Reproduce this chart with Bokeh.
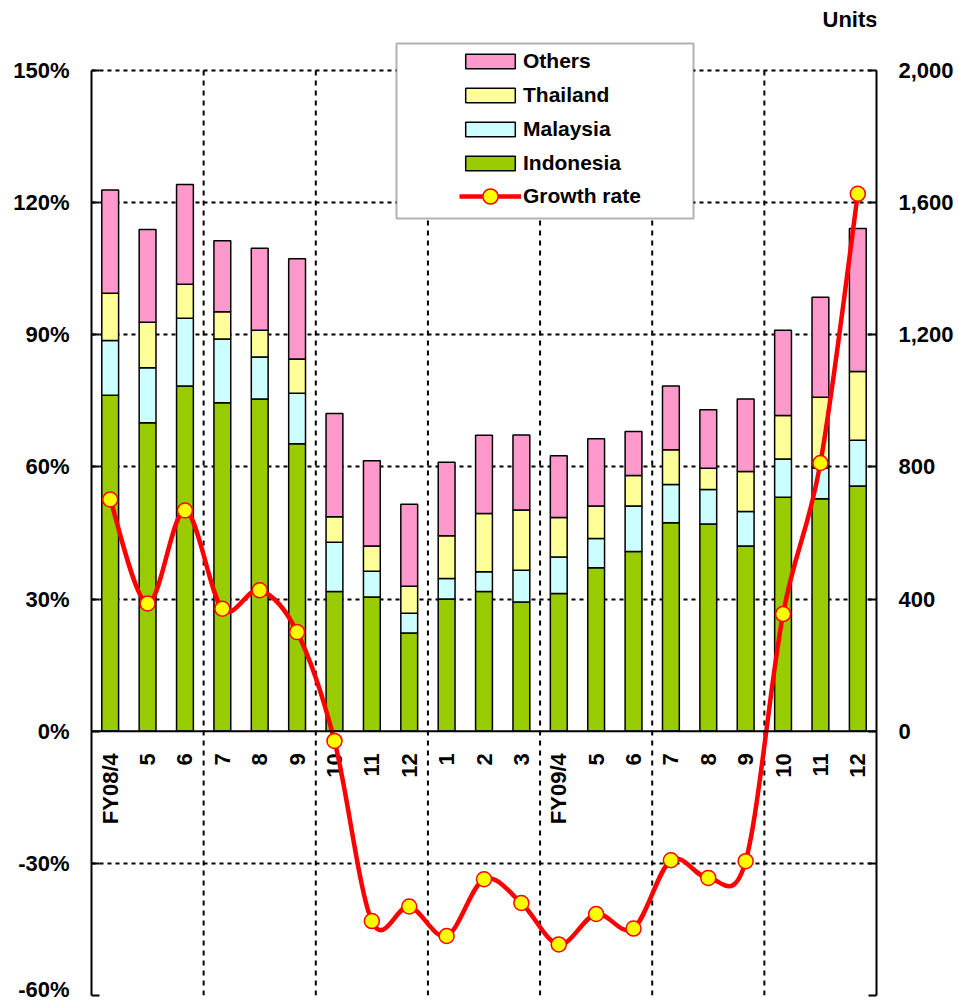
import math
from bokeh.plotting import figure
from bokeh.models import (Range1d, LinearAxis, FixedTicker, PrintfTickFormatter, NumeralTickFormatter,
                          Grid, Span, Legend, LegendItem, BoxAnnotation, Label, ColumnDataSource)
from bokeh.core.properties import value
from bokeh.embed import file_html
from bokeh.resources import INLINE

# ---------------- data ----------------
categories = ["FY08/4", "5", "6", "7", "8", "9", "10", "11", "12", "1", "2", "3",
              "FY09/4", "5", "6", "7", "8", "9", "10", "11", "12"]
indonesia = [1017, 934, 1045, 994, 1006, 870, 423, 406, 297, 400, 423, 391,
             417, 495, 544, 631, 627, 561, 708, 704, 742]
malaysia = [166, 166, 205, 193, 127, 153, 149, 78, 60, 62, 60, 96,
            110, 88, 138, 116, 105, 104, 116, 93, 139]
thailand = [143, 138, 103, 83, 81, 104, 77, 77, 82, 130, 176, 183,
            120, 99, 92, 105, 64, 121, 132, 214, 208]
others = [312, 281, 302, 215, 248, 303, 313, 258, 248, 222, 237, 227,
          187, 203, 133, 193, 177, 220, 258, 303, 433]
growth = [52.6, 29.0, 50.1, 27.8, 32.0, 22.5, -2.2, -43.1, -39.8, -46.5, -33.6, -39.0,
          -48.4, -41.5, -44.8, -29.3, -33.3, -29.5, 26.6, 60.9, 122.0]

pct_ticks = [-60, -30, 0, 30, 60, 90, 120, 150]
unit_ticks = [-800, -400, 0, 400, 800, 1200, 1600, 2000]

FONT = "Liberation Sans"
colors = {"Indonesia": "#99CC00", "Malaysia": "#CCFFFF", "Thailand": "#FFFF99", "Others": "#FF99CC"}

xs = list(range(len(categories)))
src = ColumnDataSource(dict(x=xs, cat=categories, Indonesia=indonesia, Malaysia=malaysia,
                            Thailand=thailand, Others=others, growth=growth))

# geometry: frame starts at canvas top; 150% sits 70px below it
PX_PER_PCT = 925.0 / 210.0
top_extra = 70.0 / PX_PER_PCT
pct_lo, pct_hi = pct_ticks[0], pct_ticks[-1]
u_per_pct = (unit_ticks[-1] - unit_ticks[2]) / pct_hi

p = figure(width=956, height=1001, x_range=Range1d(-0.5, len(categories) - 0.5),
           y_range=Range1d(pct_lo, pct_hi + top_extra), x_axis_location=None,
           output_backend="svg", toolbar_location=None,
           min_border_left=91, min_border_right=78, min_border_top=0, min_border_bottom=6)
p.outline_line_color = None
p.background_fill_color = "white"

# left axis
ya = p.yaxis[0]
ya.ticker = FixedTicker(ticks=pct_ticks)
ya.formatter = PrintfTickFormatter(format="%d%%")
ya.bounds = (pct_lo, pct_hi)
ya.axis_line_color = "black"
ya.axis_line_width = 2
ya.major_tick_in = 8
ya.major_tick_out = 0
ya.major_tick_line_width = 2
ya.minor_tick_line_color = None
ya.major_label_standoff = 22
ya.major_label_text_font = FONT
ya.major_label_text_font_style = "bold"
ya.major_label_text_font_size = "22px"
ya.major_label_text_color = "black"

# right axis
p.extra_y_ranges = {"units": Range1d(pct_lo * u_per_pct, (pct_hi + top_extra) * u_per_pct)}
ra = LinearAxis(y_range_name="units", ticker=FixedTicker(ticks=unit_ticks),
                formatter=NumeralTickFormatter(format="0,0"),
                bounds=(unit_ticks[0], unit_ticks[-1]))
ra.major_label_overrides = {-800: "", -400: ""}
ra.axis_line_color = "black"
ra.axis_line_width = 2
ra.major_tick_in = 8
ra.major_tick_out = 0
ra.major_tick_line_width = 2
ra.minor_tick_line_color = None
ra.major_label_standoff = 22
ra.major_label_text_font = FONT
ra.major_label_text_font_style = "bold"
ra.major_label_text_font_size = "22px"
ra.major_label_text_color = "black"
p.add_layout(ra, "right")

# grids
for g in p.ygrid:
    g.visible = False
for g in p.xgrid:
    g.visible = False
p.add_layout(Grid(dimension=1, ticker=FixedTicker(ticks=[t for t in pct_ticks if t != 0]),
                  grid_line_color="black", grid_line_width=2, grid_line_dash="4 4"))
quarter_bounds = [i - 0.5 for i in range(3, len(categories), 3)]
p.segment(x0=quarter_bounds, y0=pct_lo, x1=quarter_bounds, y1=pct_hi,
          line_color="black", line_width=2, line_dash="5 5", level="underlay")
p.add_layout(Span(location=0, dimension="width", line_color="black", line_width=2))

# stacked bars
stack = ["Indonesia", "Malaysia", "Thailand", "Others"]
bars = p.vbar_stack(stack, x="x", width=0.45, source=src, y_range_name="units",
                    fill_color=[colors[s] for s in stack], line_color="black", line_width=1.5)

# category labels under the zero line
p.text(x="x", y=0, text="cat", source=src, angle=math.pi / 2, text_align="right",
       text_baseline="middle", y_offset=22, text_font=value(FONT), text_font_style="bold",
       text_font_size="22px", text_color="black")

# smoothed growth line (Bezier segments through the data points)
n = len(growth)
bx0, by0, bx1, by1, cx0, cy0, cx1, cy1 = [], [], [], [], [], [], [], []
for i in range(n - 1):
    a = max(i - 1, 0)
    d = min(i + 2, n - 1)
    bx0.append(xs[i]); by0.append(growth[i])
    bx1.append(xs[i + 1]); by1.append(growth[i + 1])
    cx0.append(xs[i] + (xs[i + 1] - xs[a]) / 6.0)
    cy0.append(growth[i] + (growth[i + 1] - growth[a]) / 6.0)
    cx1.append(xs[i + 1] - (xs[d] - xs[i]) / 6.0)
    cy1.append(growth[i + 1] - (growth[d] - growth[i]) / 6.0)
p.bezier(x0=bx0, y0=by0, x1=bx1, y1=by1, cx0=cx0, cy0=cy0, cx1=cx1, cy1=cy1,
         line_color="#FF0000", line_width=4.5)
leg_line = p.line(x="x", y="growth", source=src, line_color="#FF0000", line_width=4.5, visible=False)
pts = p.scatter(x="x", y="growth", source=src, size=15, fill_color="#FFFF00",
                line_color="#FF0000", line_width=1.5)

# legend frame
p.add_layout(BoxAnnotation(left=396, right=693, top=43, bottom=218,
                           left_units="canvas", right_units="canvas",
                           top_units="canvas", bottom_units="canvas",
                           fill_color="white", fill_alpha=1.0,
                           line_color="black", line_width=2, level="annotation"))

legend_style = dict(glyph_width=62, label_standoff=2, spacing=10, padding=8, margin=0,
                    border_line_alpha=0, background_fill_alpha=0,
                    label_text_font=FONT, label_text_font_style="bold",
                    label_text_font_size="21px", label_text_color="black")
bar_items = [LegendItem(label="Others", renderers=[bars[3]]),
             LegendItem(label="Thailand", renderers=[bars[2]]),
             LegendItem(label="Malaysia", renderers=[bars[1]]),
             LegendItem(label="Indonesia", renderers=[bars[0]])]
p.add_layout(Legend(items=bar_items, location=(360, 812), glyph_height=18, **legend_style), "center")
line_items = [LegendItem(label="Growth rate", renderers=[leg_line, pts])]
p.add_layout(Legend(items=line_items, location=(360, 772), glyph_height=38, **legend_style), "center")

p.add_layout(Label(x=786, y=976, x_units="screen", y_units="screen", text="Units",
                   text_align="right", text_baseline="middle", text_font=FONT,
                   text_font_style="bold", text_font_size="22px", text_color="black"))

open("out.html", "w").write(file_html(p, INLINE))
